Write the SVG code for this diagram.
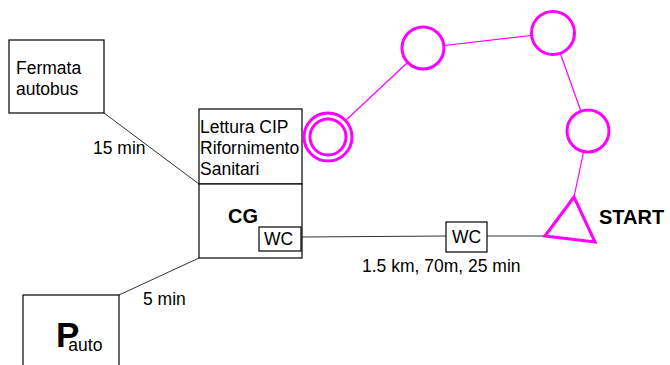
<svg xmlns="http://www.w3.org/2000/svg" width="670" height="365" viewBox="0 0 670 365">
<style>
.box{fill:#fff;stroke:#000;stroke-width:1.2}
.t{font-family:"Liberation Sans",Arial,sans-serif;font-size:17.5px;fill:#000}
.b{font-weight:bold}
.link{stroke:#333;stroke-width:1;fill:none}
.mg{stroke:#f0f;stroke-width:3;fill:#fff}
.ml{stroke:#f0f;stroke-width:1.2;fill:none}
</style>
<rect width="670" height="365" fill="#fff"/>
<g id="connectors">
<line class="link" x1="104" y1="113" x2="199" y2="184"/>
<line class="link" x1="119" y1="295" x2="199" y2="258"/>
<line class="link" x1="301" y1="237" x2="446" y2="236"/>
<line class="link" x1="487" y1="236" x2="545" y2="236"/>
<line class="ml" x1="328" y1="137" x2="423" y2="48"/>
<line class="ml" x1="423" y1="48" x2="553" y2="33"/>
<line class="ml" x1="553" y1="33" x2="588" y2="131"/>
<line class="ml" x1="588" y1="131" x2="574" y2="197"/>
</g>
<g id="fermata">
<rect class="box" x="9" y="40" width="95" height="73"/>
<text class="t" x="16" y="74">Fermata</text>
<text class="t" x="16" y="95">autobus</text>
</g>
<text class="t" x="93" y="154">15 min</text>
<g id="lettura">
<rect class="box" x="199" y="109" width="103" height="75"/>
<text class="t" x="200" y="133">Lettura CIP</text>
<text class="t" x="200" y="154">Rifornimento</text>
<text class="t" x="200" y="175">Sanitari</text>
</g>
<g id="cg">
<rect class="box" x="199" y="184" width="103" height="74"/>
<text class="t b" x="228" y="223" style="font-size:20px">CG</text>
<rect class="box" x="259" y="227" width="42" height="24"/>
<text class="t" x="264" y="245">WC</text>
</g>
<g id="wc2">
<rect class="box" x="446" y="222" width="41" height="30"/>
<text class="t" x="452" y="243">WC</text>
</g>
<text class="t" x="362" y="272">1.5 km, 70m, 25 min</text>
<g id="parking">
<rect class="box" x="23" y="295" width="96" height="80"/>
<text class="t b" x="56" y="347" style="font-size:35px">P<tspan dx="-11" dy="4" style="font-size:17.5px;font-weight:normal">auto</tspan></text>
</g>
<text class="t" x="143" y="305">5 min</text>
<g id="circle-end">
<circle class="mg" cx="328" cy="137" r="24"/>
<circle class="mg" cx="328" cy="137" r="18"/>
</g>
<g id="circle-2"><circle class="mg" cx="423" cy="48" r="21"/></g>
<g id="circle-3"><circle class="mg" cx="553" cy="33" r="21.5"/></g>
<g id="circle-4"><circle class="mg" cx="588" cy="131" r="21"/></g>
<g id="start">
<polygon class="mg" points="545,236 574,197 595,242"/>
<text class="t b" x="599" y="224" style="font-size:20px">START</text>
</g>
</svg>
